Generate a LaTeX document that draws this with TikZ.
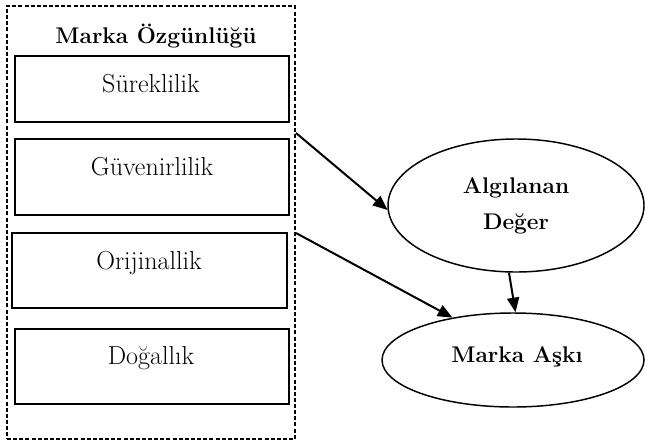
\documentclass[tikz,border=0pt]{standalone}
\usetikzlibrary{shapes.geometric,arrows.meta}
\begin{document}
\begin{tikzpicture}[x=0.75pt,y=-0.75pt,
  box/.style={draw,line width=1.1pt,inner sep=0pt,minimum width=205.5pt},
  lbl/.style={inner sep=0pt,font=\fontsize{19.5}{22}\selectfont},
  blbl/.style={inner sep=0pt,font=\fontsize{17}{26.5}\selectfont\bfseries,align=center},
  oval/.style={draw,ellipse,line width=1.1pt,inner sep=0pt},
  arr/.style={line width=1.5pt,-{Triangle[length=11pt,width=9pt]}}]
\useasboundingbox (0,0) rectangle (645,443);
% dashed container
\node[draw,dash pattern=on 3pt off 1.6pt,line width=0.9pt,inner sep=0pt,
      minimum width=216pt,minimum height=324.75pt] (outer) at (151,222.5) {};
\node[blbl] (title) at (156,36) {Marka Özgünlüğü};
% dimension boxes
\node[box,minimum height=49.5pt] (b1) at (152,89) {};
\node[lbl] (t1) at (151,84) {Süreklilik};
\node[box,minimum height=57pt] (b2) at (152,177) {};
\node[lbl] (t2) at (152,167) {Güvenirlilik};
\node[box,minimum height=56.25pt,minimum width=206.25pt] (b3) at (149.5,270.5) {};
\node[lbl] (t3) at (149,263) {Orijinallik};
\node[box,minimum height=56.25pt] (b4) at (152,366.5) {};
\node[lbl] (t4) at (151,358) {Doğallık};
% ellipses
\node[oval,minimum width=192pt,minimum height=99.75pt] (A) at (516,205.5) {};
\node[blbl] (tA) at (516,206) {Algılanan\\Değer};
\node[oval,minimum width=196.5pt,minimum height=70.5pt] (B) at (513,360) {};
\node[blbl] (tB) at (517,357) {Marka Aşkı};
% connectors
\coordinate (s1) at (296,133);
\coordinate (s2) at (296,233);
\draw[arr] (s1) -- (A.182);
\draw[arr] (s2) -- (B.145);
\draw[arr] (A.264) -- (B.87);
\end{tikzpicture}
\end{document}
